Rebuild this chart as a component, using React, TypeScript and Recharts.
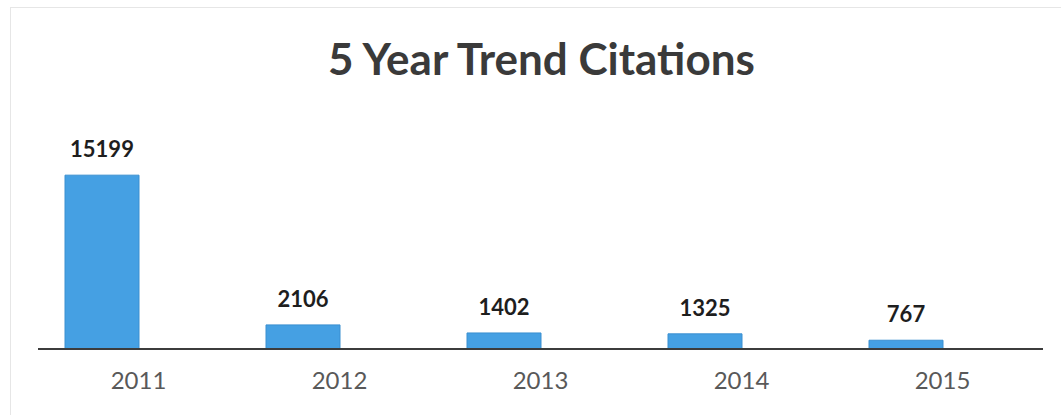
import React from 'react';
import { BarChart, Bar, XAxis, YAxis, LabelList } from 'recharts';

const years = ['2011', '2012', '2013', '2014', '2015'];
const citations = [15199, 2106, 1402, 1325, 767];

const data = years.map((year, i) => ({ year, citations: citations[i] }));

const W = 1061;
const H = 415;

export default function App() {
  return (
    <div style={{ position: 'absolute', left: 0, top: 0, width: W, height: H, background: '#fff', overflow: 'hidden' }}>
      {/* faint scanned frame */}
      <div style={{ position: 'absolute', left: 10, top: 7, width: W, height: H, borderTop: '1px solid #e6e6e6', borderLeft: '1px solid #e6e6e6' }} />
      <div
        style={{
          position: 'absolute',
          left: 0,
          top: 32,
          width: W,
          paddingLeft: 22,
          boxSizing: 'border-box',
          textAlign: 'center',
          fontFamily: 'Lato, sans-serif',
          fontWeight: 700,
          fontSize: 44,
          lineHeight: '52px',
          color: '#3a3a3a',
        }}
      >
        5 Year Trend Citations
      </div>
      <div style={{ position: 'absolute', left: 0, top: 0 }}>
        <BarChart
          width={W}
          height={H}
          data={data}
          margin={{ top: 166, right: 18, left: 38, bottom: 16 }}
          barCategoryGap={27}
          barGap={0}
        >
          <XAxis
            dataKey="year"
            height={50}
            axisLine={{ stroke: '#3c3c3c', strokeWidth: 2 }}
            tickLine={false}
            tickSize={0}
            tickMargin={23}
            tick={{ fill: '#595959', fontSize: 24, fontFamily: 'Lato, sans-serif' }}
          />
          <YAxis hide domain={[0, 16000]} />
          <Bar dataKey="citations" fill="#45a0e3" stroke="#3a8fd0" strokeWidth={1} isAnimationActive={false}>
            <LabelList
              dataKey="citations"
              position="top"
              offset={18}
              fill="#1e1e1e"
              style={{ fontSize: 22, fontWeight: 700, fontFamily: 'Lato, sans-serif' }}
            />
          </Bar>
          {/* empty second slot, as in the original clustered chart */}
          <Bar dataKey="none" fill="#45a0e3" isAnimationActive={false} />
        </BarChart>
      </div>
    </div>
  );
}
